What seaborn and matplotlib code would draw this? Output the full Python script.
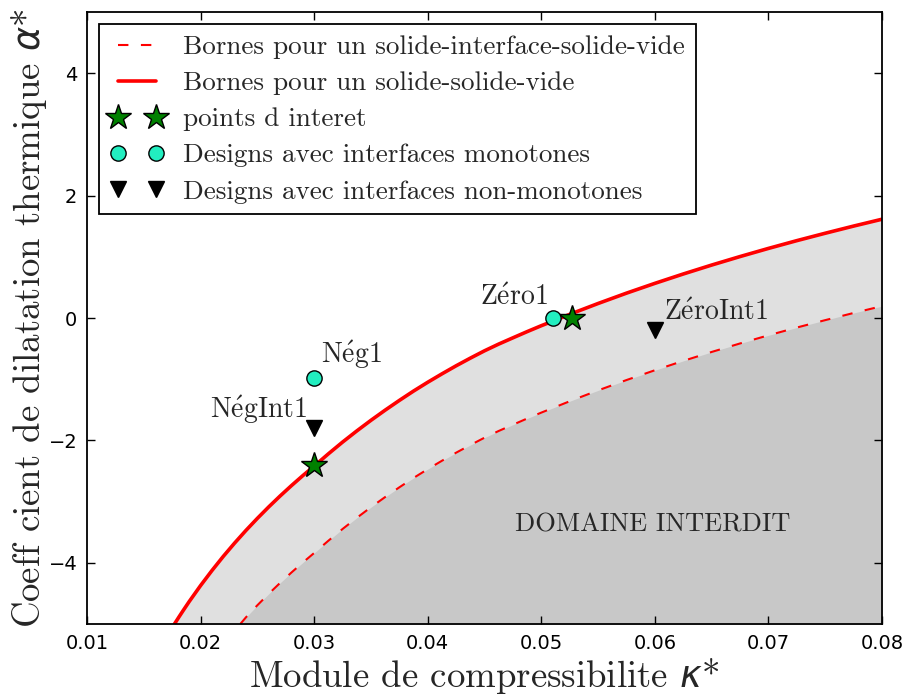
import matplotlib
matplotlib.use("Agg")
import matplotlib.pyplot as plt
import numpy as np
import pandas as pd
import seaborn as sns

# Upper bound for a solid-solid-void composite (kappa*, alpha*)
kappa_ssv = [0.0177, 0.0181, 0.0185, 0.0190, 0.0200, 0.0210, 0.0220, 0.0230,
             0.0240, 0.0250, 0.0260, 0.0270, 0.0280, 0.0290, 0.0300, 0.03125,
             0.0325, 0.03375, 0.0350, 0.03625, 0.0375, 0.03875, 0.0400, 0.04125,
             0.0425, 0.04375, 0.0450, 0.04625, 0.0475, 0.04875, 0.0500, 0.0527,
             0.0550, 0.0575, 0.0600, 0.0625, 0.0650, 0.0675, 0.0700, 0.0725,
             0.0750, 0.0775, 0.0800]
alpha_ssv = [-5.000, -4.884, -4.771, -4.633, -4.372, -4.127, -3.895, -3.677,
             -3.470, -3.274, -3.087, -2.909, -2.739, -2.576, -2.420, -2.220,
             -2.028, -1.846, -1.672, -1.506, -1.347, -1.194, -1.050, -0.913,
             -0.781, -0.656, -0.536, -0.426, -0.324, -0.223, -0.126, 0.074,
             0.237, 0.406, 0.566, 0.719, 0.865, 1.004, 1.137, 1.264,
             1.385, 1.502, 1.614]

# Bound for a solid-interface-solid-void composite
kappa_sisv = [0.0235, 0.0240, 0.0250, 0.0260, 0.0270, 0.0280, 0.0290, 0.0300,
              0.03125, 0.0325, 0.03375, 0.0350, 0.03625, 0.0375, 0.03875, 0.0400,
              0.04125, 0.0425, 0.04375, 0.0450, 0.04625, 0.0475, 0.04875, 0.0500,
              0.0527, 0.0550, 0.0575, 0.0600, 0.0625, 0.0650, 0.0675, 0.0700,
              0.0725, 0.0750, 0.0775, 0.0800]
alpha_sisv = [-5.000, -4.890, -4.694, -4.507, -4.329, -4.159, -3.996, -3.840,
              -3.640, -3.448, -3.266, -3.092, -2.926, -2.767, -2.614, -2.470,
              -2.333, -2.201, -2.076, -1.956, -1.846, -1.744, -1.643, -1.546,
              -1.346, -1.183, -1.014, -0.854, -0.701, -0.555, -0.416, -0.283,
              -0.156, -0.035, 0.082, 0.194]

# Design points
star_kappa = [0.0300, 0.0527]
star_alpha = [-2.40, 0.00]
mono_kappa = [0.0300, 0.0510]
mono_alpha = [-0.98, 0.00]
nonmono_kappa = [0.0300, 0.0600]
nonmono_alpha = [-1.80, -0.19]

# Point annotations: text, x, y, horizontal alignment
note_text = [r"N$\acute{\mathrm{e}}$g1", r"N$\acute{\mathrm{e}}$gInt1",
             r"Z$\acute{\mathrm{e}}$ro1", r"Z$\acute{\mathrm{e}}$roInt1"]
note_x = [0.0306, 0.0294, 0.0506, 0.0608]
note_y = [-0.74, -1.64, 0.21, -0.04]
note_ha = ["left", "right", "right", "left"]

x_ticks = [0.01, 0.02, 0.03, 0.04, 0.05, 0.06, 0.07, 0.08]
x_ticklabels = ["0.01", "0.02", "0.03", "0.04", "0.05", "0.06", "0.07", "0.08"]
y_ticks = [-4, -2, 0, 2, 4]

sns.set_style("ticks")
plt.rcParams["font.family"] = ["DejaVu Sans"]
plt.rcParams["mathtext.fontset"] = "dejavusans"
serif = ["cmr10", "DejaVu Serif"]

fig = plt.figure(figsize=(9.04, 6.97), dpi=100)
ax = fig.add_axes([87 / 904, 1 - 624 / 697, (882 - 87) / 904, (624 - 12) / 697])

ssv = pd.DataFrame({"kappa": kappa_ssv, "alpha": alpha_ssv})
sisv = pd.DataFrame({"kappa": kappa_sisv, "alpha": alpha_sisv})

# shaded regions under each bound
ax.fill_between(ssv["kappa"], ssv["alpha"], -6, color="#e0e0e0", lw=0, zorder=0)
ax.fill_between(sisv["kappa"], sisv["alpha"], -6, color="#c8c8c8", lw=0, zorder=0.5)

sns.lineplot(data=sisv, x="kappa", y="alpha", ax=ax, estimator=None, sort=False,
             color="red", lw=1.5, linestyle=(0, (5, 6)),
             label="Bornes pour un solide-interface-solide-vide", zorder=2)
sns.lineplot(data=ssv, x="kappa", y="alpha", ax=ax, estimator=None, sort=False,
             color="red", lw=2.6,
             label="Bornes pour un solide-solide-vide", zorder=2)

pts = [
    (star_kappa, star_alpha, "*", 19, "green", "points d interet"),
    (mono_kappa, mono_alpha, "o", 11, "#22eec0", "Designs avec interfaces monotones"),
    (nonmono_kappa, nonmono_alpha, "v", 11, "black", "Designs avec interfaces non-monotones"),
]
for kx, ky, mk, ms, col, lab in pts:
    sns.lineplot(x=kx, y=ky, ax=ax, estimator=None, sort=False,
                 marker=mk, markersize=ms, markerfacecolor=col,
                 markeredgecolor="black", markeredgewidth=1.0,
                 linestyle="none", color=col, label=lab, zorder=3)

for t, x, y, ha in zip(note_text, note_x, note_y, note_ha):
    ax.text(x, y, t, ha=ha, va="baseline", fontsize=20, family=serif,
            math_fontfamily="cm", zorder=4)

ax.text(0.0598, -3.49, "DOMAINE INTERDIT", ha="center", va="baseline",
        fontsize=19, family=serif, zorder=4)

ax.set_xlim(0.01, 0.08)
ax.set_ylim(-5, 5)
ax.set_xticks(x_ticks)
ax.set_xticklabels(x_ticklabels)
ax.set_yticks(y_ticks)
ax.tick_params(direction="in", length=6, width=1, top=True, right=True,
               labelsize=14, colors="black", pad=7)
for s in ax.spines.values():
    s.set_linewidth(1.3)
    s.set_color("black")

ax.set_xlabel(r"Module de compressibilite $\kappa$*", fontsize=26.5, family=serif,
              labelpad=2)
ax.set_ylabel(r"Coeff cient de dilatation thermique $\alpha$*", fontsize=26.5,
              family=serif, labelpad=0)

leg = ax.legend(loc="upper left", numpoints=2, prop={"family": serif, "size": 19.5},
                frameon=True, fancybox=False, framealpha=1, edgecolor="black",
                handlelength=2.0, handletextpad=0.7, borderpad=0.4, labelspacing=0.45,
                borderaxespad=0.45)
leg.get_frame().set_linewidth(1.3)

fig.savefig("out.png", dpi=100)
